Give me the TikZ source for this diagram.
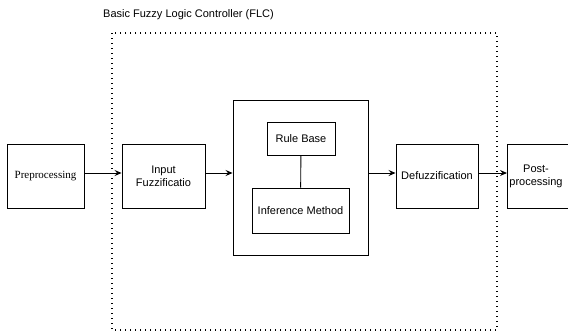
\documentclass[tikz,border=0pt]{standalone}
\usepackage{fontspec}
\setmainfont{Liberation Sans}
\newfontfamily\serifface{Liberation Serif}
\usetikzlibrary{arrows.meta,positioning}
\begin{document}
\begin{tikzpicture}[x=1pt,y=-1pt,
  box/.style={draw=black,line width=0.9pt,fill=white,inner sep=0pt,align=center,font=\fontsize{11}{13}\selectfont},
  link/.style={draw=black,line width=0.9pt,-{Stealth[length=7pt,width=6pt,inset=2.5pt]}},
  plain/.style={draw=black,line width=0.9pt},
  frame/.style={draw=black,line width=1.4pt,line cap=butt,dash pattern=on 1.4pt off 3.6pt}]
\useasboundingbox (0,0) rectangle (568,333);
\clip (0,0) rectangle (568,333);
% controller frame and its caption
\draw[frame] (112,33) rectangle (497,330);
\node[anchor=west,font=\fontsize{11}{13}\selectfont,inner sep=0pt] (title) at (103,15) {Basic Fuzzy Logic Controller (FLC)};
% processing chain
\node[box,minimum width=77pt,minimum height=64pt,font=\serifface\fontsize{11}{13}\selectfont] (pre) at (45.5,176) {Preprocessing};
\node[box,minimum width=83pt,minimum height=64pt] (fuzz) at (163.5,176) {Input\\Fuzzificatio};
\node[box,minimum width=135pt,minimum height=155pt] (core) at (300.5,177.5) {};
\node[box,minimum width=68pt,minimum height=33pt] (rules) at (301,138.5) {Rule Base};
\node[box,minimum width=97pt,minimum height=45pt] (infer) at (300.5,210.5) {Inference Method};
\node[box,minimum width=82pt,minimum height=64pt] (defuzz) at (437,176) {Defuzzification};
\draw[plain,fill=white] (507,144) rectangle (575,208);
\node[align=center,font=\fontsize{11}{13}\selectfont,inner sep=0pt] (post) at (536,176) {Post-\\processing};
% connectors
\draw[link] (pre.east |- 0,173) -- (fuzz.west |- 0,173);
\draw[link] (fuzz.east |- 0,173) -- (core.west |- 0,173);
\draw[plain] (rules) -- (infer);
\draw[link] (core.east |- 0,173) -- (defuzz.west |- 0,173);
\draw[link] (defuzz.east |- 0,173) -- (507,173);
\end{tikzpicture}
\end{document}
